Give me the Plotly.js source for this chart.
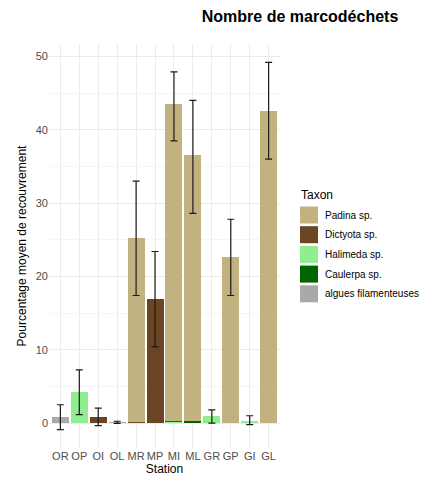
<!DOCTYPE html>
<html>
<head>
<meta charset="utf-8">
<script src="https://cdn.plot.ly/plotly-3.0.1.min.js"></script>
<style>
  html, body { margin: 0; padding: 0; background: #fff; }
  #chart { width: 422px; height: 479px; }
</style>
</head>
<body>
<div id="chart"></div>
<script>
// Stations along the x axis
const stations = ["OR", "OP", "OI", "OL", "MR", "MP", "MI", "ML", "GR", "GP", "GI", "GL"];

// Mean cover (%) per taxon and station
const padina   = [0, 0, 0, 0, 25.2, 0, 43.2, 36.3, 0, 22.6, 0, 42.6];
const dictyota = [0, 0, 0.85, 0, 0.1, 16.9, 0.2, 0, 0, 0, 0, 0];
const halimeda = [0, 4.2, 0, 0, 0, 0, 0.1, 0, 0.9, 0, 0.35, 0];
const caulerpa = [0, 0, 0, 0, 0, 0, 0, 0.25, 0, 0, 0, 0];
const algues   = [0.8, 0, 0, 0.1, 0, 0, 0, 0, 0, 0, 0, 0];

// Mean and standard deviation used for the error bars
const errMean = [0.8, 4.2, 0.85, 0.1, 25.2, 16.9, 43.2, 36.3, 0.9, 22.6, 0.4, 42.6];
const errSd   = [1.7, 3.05, 1.2, 0.15, 7.8, 6.5, 4.7, 7.7, 0.9, 5.2, 0.6, 6.6];

// Legend order (top to bottom); stacking runs the other way
const taxa = [
  { name: "Padina sp.",           values: padina,   color: "#C2B280" },
  { name: "Dictyota sp.",         values: dictyota, color: "#6B4423" },
  { name: "Halimeda sp.",         values: halimeda, color: "#90EE90" },
  { name: "Caulerpa sp.",         values: caulerpa, color: "#006400" },
  { name: "algues filamenteuses", values: algues,   color: "#A9A9A9" }
];

const traces = taxa.slice().reverse().map(t => ({
  type: "bar",
  name: t.name,
  x: stations,
  y: t.values,
  width: 0.9,
  marker: { color: t.color, line: { width: 0 } },
  showlegend: false,
  hoverinfo: "x+y+name"
}));

traces.push({
  type: "scatter",
  mode: "markers",
  x: stations,
  y: errMean,
  marker: { opacity: 0, size: 1 },
  showlegend: false,
  error_y: { type: "data", array: errSd, visible: true, color: "#1a1a1a", thickness: 1.2, width: 3.5 },
  hoverinfo: "skip"
});

const W = 422, H = 479;
const M = { l: 49, r: 142, t: 44, b: 31 };
const plotW = W - M.l - M.r, plotH = H - M.t - M.b;
const px2x = px => (px - M.l) / plotW;
const py2y = py => (H - M.b - py) / plotH;

const gridColor = "#EBEBEB";
const font = "Liberation Sans, Arial, sans-serif";

// Legend drawn as key boxes and labels to the right of the panel
const keySize = 17, keyLeft = 300, firstKeyCentre = 215, keyStep = 19.7;
const shapes = [];
const annotations = [{
  text: "Taxon", showarrow: false,
  xref: "paper", yref: "paper",
  x: px2x(keyLeft - 1), y: py2y(195), xanchor: "left", yanchor: "middle",
  font: { family: font, size: 12, color: "#000" }
}];
taxa.forEach((t, i) => {
  const cy = firstKeyCentre + i * keyStep;
  shapes.push({
    type: "rect", xref: "paper", yref: "paper",
    x0: px2x(keyLeft), x1: px2x(keyLeft + keySize + 1),
    y0: py2y(cy + keySize / 2), y1: py2y(cy - keySize / 2),
    fillcolor: t.color, line: { width: 0 }
  });
  annotations.push({
    text: t.name, showarrow: false,
    xref: "paper", yref: "paper",
    x: px2x(keyLeft + keySize + 6), y: py2y(cy), xanchor: "left", yanchor: "middle",
    font: { family: font, size: 10, color: "#000" }
  });
});

const layout = {
  width: W,
  height: H,
  margin: M,
  paper_bgcolor: "#fff",
  plot_bgcolor: "#fff",
  barmode: "stack",
  bargap: 0.1,
  showlegend: false,
  font: { family: font, color: "#000" },
  title: {
    text: "<b>Nombre de marcodéchets</b>",
    font: { family: font, size: 16, color: "#000" },
    xref: "container", x: 0.711, xanchor: "center",
    yref: "container", y: 0.965, yanchor: "middle"
  },
  xaxis: {
    type: "category",
    categoryorder: "array",
    categoryarray: stations,
    range: [-0.6, 11.6],
    tickangle: 0,
    showgrid: true,
    gridcolor: gridColor,
    gridwidth: 1,
    zeroline: false,
    showline: false,
    ticks: "",
    tickfont: { family: font, size: 11, color: "#4D4D4D" },
    title: { text: "Station", font: { family: font, size: 12, color: "#000" }, standoff: 2 }
  },
  yaxis: {
    range: [-3.4, 51.7],
    dtick: 10,
    tick0: 0,
    showgrid: true,
    gridcolor: gridColor,
    gridwidth: 1,
    minor: { dtick: 5, tick0: 0, showgrid: true, gridcolor: "#F3F3F3", gridwidth: 0.8 },
    zeroline: false,
    showline: false,
    ticks: "",
    tickfont: { family: font, size: 11, color: "#4D4D4D" },
    title: { text: "Pourcentage moyen de recouvrement", font: { family: font, size: 12, color: "#000" }, standoff: 6 }
  },
  shapes: shapes,
  annotations: annotations
};

Plotly.newPlot("chart", traces, layout, { displayModeBar: false, staticPlot: true });
</script>
</body>
</html>
